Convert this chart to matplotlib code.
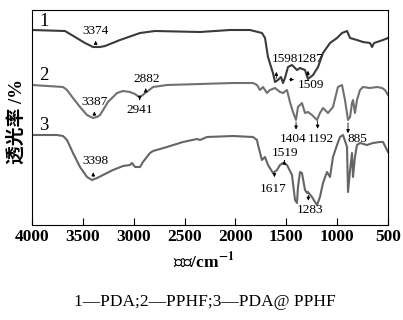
import numpy as np
import matplotlib
matplotlib.use('Agg')
import matplotlib.pyplot as plt

plt.rcParams['font.family'] = ['Liberation Serif', 'Noto Sans CJK SC', 'DejaVu Serif']
plt.rcParams['mathtext.fontset'] = 'stix'

# FTIR spectra (wavenumber cm-1, transmittance in arbitrary offset units)
wn1 = [4000, 3676, 3626, 3577, 3479, 3400, 3331, 3282, 3135, 2938, 2791, 2348, 2053,
       1857, 1739, 1709, 1680, 1631, 1611, 1582, 1552, 1532, 1513, 1483, 1444, 1395,
       1365, 1316, 1287, 1237, 1188, 1139, 1070, 1001, 952, 903, 873, 805, 746, 677,
       657, 637, 549, 500]
t1 = [195, 194, 191, 188, 182, 178, 178, 179, 185, 192, 194, 193, 195,
      195, 192, 187, 168, 152, 143, 145, 148, 142, 147, 158, 160, 155,
      157, 155, 146, 150, 158, 172, 182, 187, 192, 194, 187, 185, 183, 182,
      178, 182, 185, 187]

wn2 = [4000, 3695, 3656, 3597, 3528, 3459, 3400, 3361, 3331, 3253, 3164, 3105, 3037,
       2987, 2948, 2928, 2909, 2889, 2860, 2810, 2673, 2348, 2024, 1827, 1788, 1759,
       1729, 1690, 1660, 1611, 1562, 1532, 1493, 1464, 1434, 1405, 1385, 1346, 1316,
       1287, 1247, 1198, 1169, 1139, 1090, 1041, 992, 952, 923, 893, 873, 854, 844,
       825, 805, 775, 746, 677, 608, 559, 530, 500]
t2 = [140, 138, 135, 127, 118, 110, 107, 108, 110, 123, 132, 134, 133,
      131, 128, 129, 130, 132, 134, 138, 140, 141, 142, 142, 140, 135,
      138, 132, 135, 137, 133, 132, 135, 123, 113, 105, 118, 122, 112,
      113, 110, 105, 112, 117, 112, 118, 138, 140, 125, 105, 108, 122, 125,
      112, 125, 135, 138, 137, 138, 137, 135, 130]

wn3 = [4000, 3754, 3695, 3656, 3597, 3528, 3459, 3410, 3361, 3302, 3204, 3105, 3037,
       3017, 2987, 2938, 2909, 2840, 2810, 2673, 2516, 2378, 2348, 2280, 2024, 1827,
       1788, 1778, 1739, 1709, 1680, 1631, 1591, 1562, 1532, 1493, 1483, 1444, 1414,
       1395, 1385, 1365, 1346, 1316, 1296, 1287, 1247, 1218, 1198, 1169, 1139, 1100,
       1070, 1041, 1001, 972, 942, 903, 893, 873, 854, 844, 825, 805, 775, 707, 648,
       579, 549, 510, 500]
t3 = [90, 90, 89, 85, 72, 58, 48, 45, 47, 50, 55, 59, 60,
      62, 58, 58, 63, 72, 74, 78, 83, 86, 85, 88, 89, 88,
      85, 80, 65, 68, 60, 52, 55, 60, 62, 60, 58, 50, 25,
      22, 38, 53, 52, 35, 32, 33, 28, 23, 20, 28, 42, 53,
      48, 68, 80, 88, 90, 78, 33, 55, 72, 48, 68, 80, 82, 80, 82,
      83, 83, 75, 73]

curve_labels = ['1', '2', '3']
peaks1 = [3374, 1598, 1287, 1509]
peaks2 = [3387, 2882, 2941, 1404, 1192, 885]
peaks3 = [3398, 1617, 1519, 1283]

fig = plt.figure(figsize=(4.03, 3.2), dpi=100)
ax = fig.add_axes([32 / 403, 1 - 225 / 320, 356 / 403, 215 / 320])

ax.plot(wn1, t1, color='#3a3a3a', lw=1.5)
ax.plot(wn2, t2, color='#707070', lw=1.5)
ax.plot(wn3, t3, color='#656565', lw=1.5)

ax.set_xlim(4000, 500)
ax.set_ylim(0, 215)
ax.set_xticks([4000, 3500, 3000, 2500, 2000, 1500, 1000, 500])
ax.set_yticks([])
ax.tick_params(axis='x', direction='in', length=5, labelsize=12.5, pad=3)
for lab in ax.get_xticklabels():
    lab.set_fontweight('bold')

for txt, y in zip(curve_labels, [t1[0], t2[0], t3[0]]):
    ax.text(3930, y + 0.5, txt, fontsize=13.5, ha='left', va='bottom')

ann = dict(fontsize=9.5, ha='center')
arrow = dict(arrowstyle='-|>', color='black', lw=0.6, mutation_scale=5)


def mark(wn, t, peak, dy, tx, ty, va):
    y0 = np.interp(peak, wn[::-1], t[::-1])
    ax.annotate('', xy=(peak, y0 + dy), xytext=(peak, y0), arrowprops=arrow)
    ax.text(tx, ty, str(peak), va=va, **ann)


mark(wn1, t1, 3374, 9, 3374, 188, 'bottom')
mark(wn1, t1, 1598, 12, 1513, 160, 'bottom')
mark(wn1, t1, 1287, 11, 1262, 160, 'bottom')
y1509 = np.interp(1509, wn1[::-1], t1[::-1])
ax.annotate('', xy=(1395, y1509 - 3), xytext=(1495, y1509 - 3), arrowprops=arrow)
ax.text(1262, y1509 - 8, '1509', va='center', **ann)

mark(wn2, t2, 3387, 9, 3385, 117, 'bottom')
mark(wn2, t2, 2882, 7, 2870, 140, 'bottom')
mark(wn2, t2, 2941, -6, 2940, 121, 'top')
mark(wn2, t2, 1404, -13, 1432, 92, 'top')
mark(wn2, t2, 1192, -13, 1160, 92, 'top')
ax.annotate('', xy=(893, 89), xytext=(893, 105), arrowprops=arrow)
ax.text(800, 92, '885', va='top', **ann)

mark(wn3, t3, 3398, 10, 3380, 58, 'bottom')
mark(wn3, t3, 1617, -8, 1630, 42, 'top')
mark(wn3, t3, 1519, 6, 1515, 66, 'bottom')
mark(wn3, t3, 1283, -11, 1267, 21, 'top')

fig.text(16 / 403, 1 - 122 / 320, '透光率 /%', rotation=90, ha='center', va='center',
         fontsize=13.5, fontweight='bold')
fig.text(204 / 403, 1 - 261 / 320, '波数/cm$^{\\mathbf{-1}}$', ha='center', va='center',
         fontsize=12.5, fontweight='bold')
fig.text(205 / 403, 1 - 302 / 320, '1—PDA;2—PPHF;3—PDA@ PPHF', ha='center',
         va='center', fontsize=12.5)

fig.savefig('out.png', dpi=100)
